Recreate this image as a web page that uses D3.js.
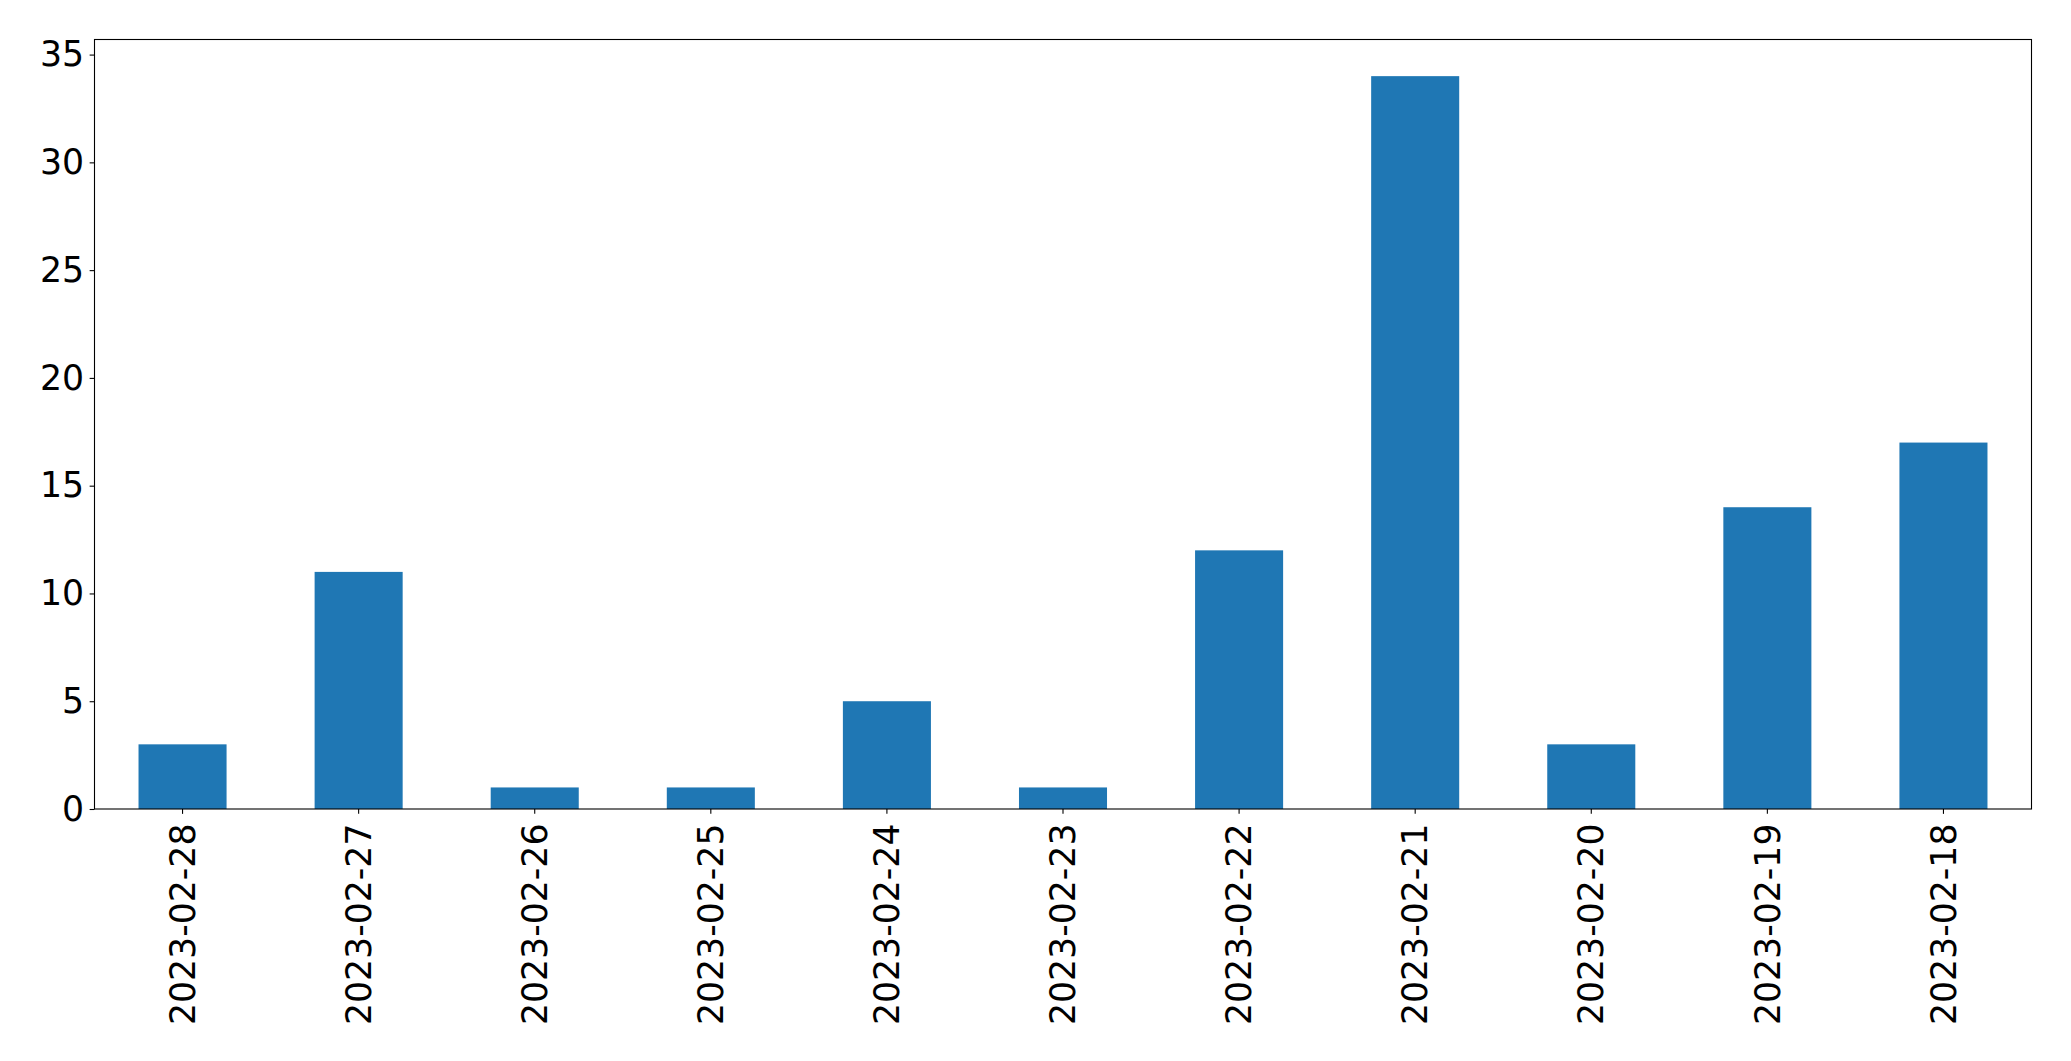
<!DOCTYPE html>
<html>
<head>
<meta charset="utf-8">
<script src="https://cdn.jsdelivr.net/npm/d3@7"></script>
<style>
html,body{margin:0;padding:0;background:#fff;}
svg{display:block;}
text{font-family:"DejaVu Sans",sans-serif;fill:#000;}
</style>
</head>
<body>
<svg id="chart" width="2071" height="1061"></svg>
<script>
const categories = ["2023-02-28","2023-02-27","2023-02-26","2023-02-25","2023-02-24","2023-02-23","2023-02-22","2023-02-21","2023-02-20","2023-02-19","2023-02-18"];
const values = [3, 11, 1, 1, 5, 1, 12, 34, 3, 14, 17];
const yTicks = [0, 5, 10, 15, 20, 25, 30, 35];

(function () {
const mLeft = 94.5, mRight = 2031.5, mTop = 39.5, mBottom = 809;
const fontSize = 34.7;

const svg = d3.select("#chart");

const x = d3.scaleBand().domain(categories).range([mLeft, mRight]).paddingInner(0.5).paddingOuter(0.25);
const yMax = d3.max(values) * 1.05;
const y = d3.scaleLinear().domain([0, yMax]).range([mBottom, mTop]);

// bars
svg.append("g").selectAll("rect").data(values).join("rect")
  .attr("x", (d, i) => x(categories[i]))
  .attr("y", d => y(d))
  .attr("width", x.bandwidth())
  .attr("height", d => y(0) - y(d))
  .attr("fill", "#1f77b4");

// y axis
const yAxis = d3.axisLeft(y).tickValues(yTicks).tickSize(4.86).tickPadding(5.5).tickFormat(d3.format("d"));
const gy = svg.append("g").attr("transform", `translate(${mLeft},0)`).call(yAxis);
gy.select(".domain").remove();
gy.selectAll(".tick line").attr("stroke", "#000").attr("stroke-width", 1.1);
gy.selectAll(".tick text").style("font-size", fontSize + "px").style("font-family", "'DejaVu Sans', sans-serif").attr("fill", "#000");

// x axis
const xAxis = d3.axisBottom(x).tickSize(4.86).tickPadding(0);
const gx = svg.append("g").attr("transform", `translate(0,${mBottom})`).call(xAxis);
gx.select(".domain").remove();
gx.selectAll(".tick line").attr("stroke", "#000").attr("stroke-width", 1.1);
gx.selectAll(".tick text")
  .style("font-size", fontSize + "px")
  .style("font-family", "'DejaVu Sans', sans-serif")
  .attr("fill", "#000")
  .attr("transform", "translate(0,14.5) rotate(-90)")
  .attr("x", 0).attr("y", 0)
  .attr("dy", "0.35em")
  .attr("text-anchor", "end");

// frame
svg.append("rect")
  .attr("x", mLeft).attr("y", mTop)
  .attr("width", mRight - mLeft).attr("height", mBottom - mTop)
  .attr("fill", "none").attr("stroke", "#000").attr("stroke-width", 1.1);
})();
</script>
</body>
</html>
